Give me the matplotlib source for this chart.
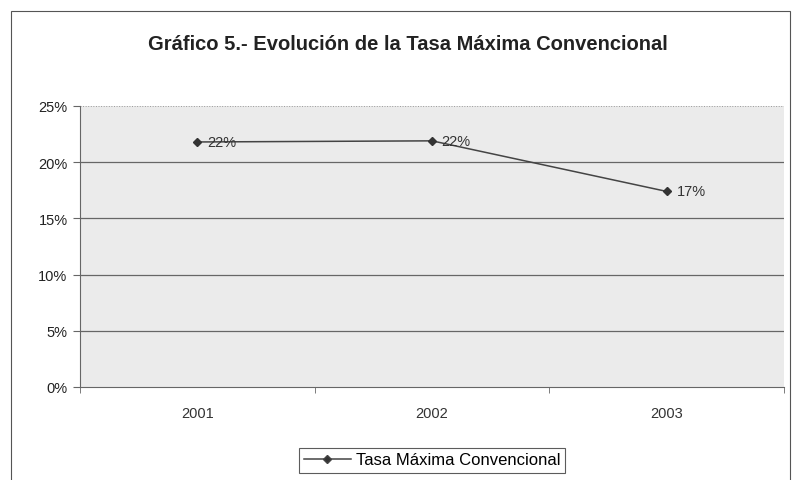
import matplotlib
matplotlib.use("Agg")
import matplotlib.pyplot as plt
from matplotlib.patches import Rectangle
from matplotlib.lines import Line2D

plt.rcParams['font.family'] = ['Liberation Sans', 'DejaVu Sans']

years = ["2001", "2002", "2003"]
values = [21.8, 21.9, 17.4]
labels = ["22%", "22%", "17%"]
yticks = [0, 5, 10, 15, 20, 25]
series_name = "Tasa Máxima Convencional"
title = "Gráfico 5.- Evolución de la Tasa Máxima Convencional"

fig = plt.figure(figsize=(7.95, 4.81), dpi=100)
# outer chart frame
fig.patches.append(Rectangle((11/795, -0.01), (790-11)/795, (481-12)/481 + 0.01,
                             transform=fig.transFigure, fill=False,
                             edgecolor='#555555', linewidth=0.8))

ax = fig.add_axes([80/795, (481-388)/481, (784-80)/795, (388-107)/481])
ax.set_facecolor('#ebebeb')
x = list(range(len(years)))
ax.plot(x, values, color='#444444', linewidth=1.1, marker='D', markersize=4.5,
        markerfacecolor='#333333', markeredgecolor='#333333')
for xi, v, lab in zip(x, values, labels):
    ax.annotate(lab, (xi, v), xytext=(7, 0), textcoords='offset points',
                va='center', ha='left', fontsize=10.5, color='#333333')

ax.set_xlim(-0.5, len(years) - 0.5)
ax.set_ylim(0, 25)
ax.set_yticks(yticks)
ax.set_yticklabels([f"{t}%" for t in yticks], fontsize=10.5, color='#222222')
ax.set_xticks(x)
ax.set_xticklabels(years, fontsize=10.5, color='#333333')
ax.tick_params(axis='x', length=0, pad=14)
ax.set_xticks([i + 0.5 for i in range(-1, len(years))], minor=True)
ax.tick_params(axis='x', which='minor', length=4, direction='out', color='#666666')
ax.tick_params(axis='y', length=5, direction='out', color='#666666', pad=4)
for t in yticks[1:-1]:
    ax.axhline(t, color='#666666', linewidth=0.9, zorder=0.5)
ax.axhline(25, color='#999999', linewidth=0.7, linestyle=':', zorder=0.5)
for s in ['top', 'right']:
    ax.spines[s].set_visible(False)
ax.spines['left'].set_color('#666666')
ax.spines['bottom'].set_color('#666666')

fig.text(408/795, 1 - 45/481, title, ha='center', va='center',
         fontsize=14.5, fontweight='bold', color='#222222')

handle = Line2D([], [], color='#444444', linewidth=1.1, marker='D', markersize=4.5,
                markerfacecolor='#333333')
leg = fig.legend([handle], [series_name], loc='center',
                 bbox_to_anchor=(432/795, 1 - 461/481), fontsize=12,
                 frameon=True, fancybox=False, edgecolor='#333333',
                 handlelength=2.8, borderpad=0.3, handletextpad=0.3,
                 borderaxespad=0)
leg.get_frame().set_linewidth(0.8)

fig.savefig("out.png", dpi=100)
